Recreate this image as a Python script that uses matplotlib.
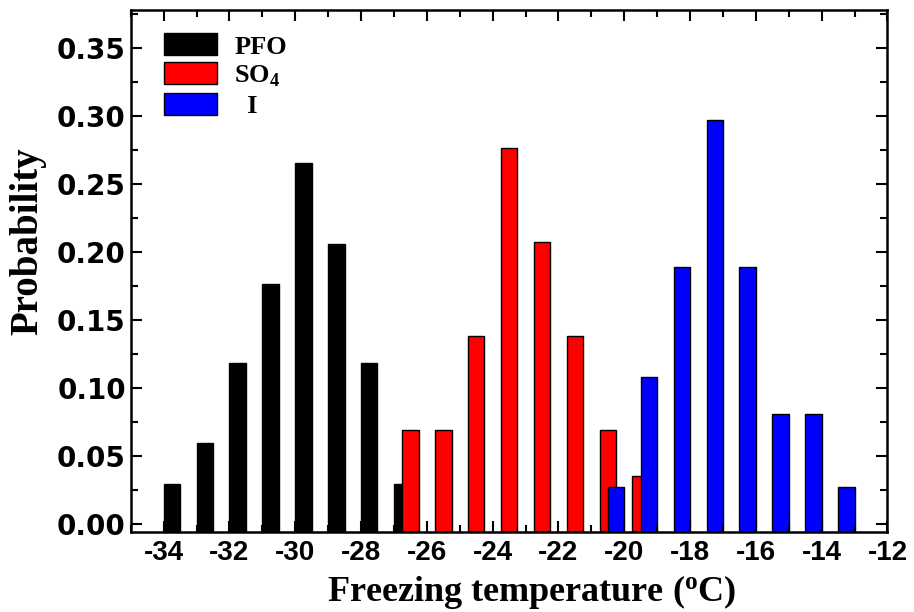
import numpy as np
import matplotlib.pyplot as plt
from matplotlib.ticker import MultipleLocator

plt.rcParams['axes.unicode_minus'] = False
plt.rcParams['mathtext.fontset'] = 'custom'
plt.rcParams['mathtext.bf'] = 'Liberation Serif:bold'
plt.rcParams['mathtext.rm'] = 'Liberation Serif:bold'

# bar centres and probabilities for each group
pfo_t = [-33.75, -32.75, -31.75, -30.75, -29.75, -28.75, -27.75, -26.75]
pfo_p = [0.029, 0.059, 0.118, 0.176, 0.265, 0.206, 0.118, 0.029]

so4_t = [-26.5, -25.5, -24.5, -23.5, -22.5, -21.5, -20.5, -19.5]
so4_p = [0.069, 0.069, 0.138, 0.276, 0.207, 0.138, 0.069, 0.035]

i_t = [-20.25, -19.25, -18.25, -17.25, -16.25, -15.25, -14.25, -13.25]
i_p = [0.027, 0.108, 0.189, 0.297, 0.189, 0.081, 0.081, 0.027]

xticks = [-34, -32, -30, -28, -26, -24, -22, -20, -18, -16, -14, -12]

y0 = -0.006
fig = plt.figure(figsize=(9.14, 6.12), dpi=100)
ax = fig.add_axes([0.143, 0.131, 0.828, 0.853])

w = 0.5
ax.bar(pfo_t, np.array(pfo_p) - y0, bottom=y0, width=w, color='black',
       edgecolor='black', linewidth=1, label='PFO')
ax.bar(so4_t, np.array(so4_p) - y0, bottom=y0, width=w, color='red',
       edgecolor='black', linewidth=1, label='SO$_\\mathbf{4}$')
ax.bar(i_t, np.array(i_p) - y0, bottom=y0, width=w, color='blue',
       edgecolor='black', linewidth=1, label='  I')

ax.set_xlim(-35, -12)
ax.set_ylim(y0, 0.378)
ax.set_xticks(xticks)
ax.xaxis.set_minor_locator(MultipleLocator(1))
ax.set_yticks(np.arange(0, 0.36, 0.05))
ax.yaxis.set_minor_locator(MultipleLocator(0.025))

ax.tick_params(which='both', direction='in', top=True, right=True, width=1.5)
ax.tick_params(which='major', length=8)
ax.tick_params(which='minor', length=5)
ax.tick_params(axis='x', which='major', pad=6)

for lab in ax.get_xticklabels():
    lab.set_fontfamily('Liberation Sans')
    lab.set_fontweight('bold')
    lab.set_fontsize(20)
for lab in ax.get_yticklabels():
    lab.set_fontfamily('DejaVu Sans')
    lab.set_fontweight('bold')
    lab.set_fontsize(20)

for s in ax.spines.values():
    s.set_linewidth(1.8)

ax.set_xlabel('Freezing temperature ($\\mathbf{^{o}}$C)', family='Liberation Serif',
              fontweight='bold', fontsize=26)
ax.set_ylabel('Probability', family='Liberation Serif', fontweight='bold',
              fontsize=28)
ax.xaxis.set_label_coords(0.53, -0.078)
ax.yaxis.set_label_coords(-0.112, 0.556)

leg = ax.legend(loc='upper left', frameon=False, handlelength=2.0, handleheight=0.9,
                borderaxespad=0.3, bbox_to_anchor=(0.02, 0.99), labelspacing=0.15,
                handletextpad=0.65,
                prop={'family': 'Liberation Serif', 'weight': 'bold', 'size': 19})

fig.savefig('out.png', dpi=100)
